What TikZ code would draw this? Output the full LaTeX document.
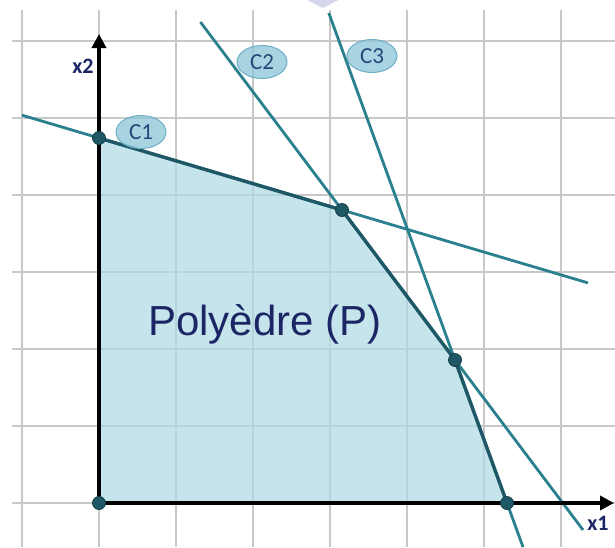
\documentclass[tikz,border=0pt]{standalone}
\usepackage{fontspec}
\setmainfont{Liberation Sans}
\newfontfamily\lblfont{Carlito}
\usetikzlibrary{calc,arrows.meta,shapes.geometric}
\definecolor{gridgray}{RGB}{200,200,200}
\definecolor{polyfill}{RGB}{176,218,229}
\definecolor{cline}{RGB}{42,128,142}
\definecolor{pedge}{RGB}{30,88,102}
\definecolor{navy}{RGB}{28,38,100}
\definecolor{lblfill}{RGB}{140,198,216}
\definecolor{lbldraw}{RGB}{110,175,198}
\definecolor{lbltext}{RGB}{36,72,122}
\definecolor{lav}{RGB}{214,214,236}
\tikzset{
  gridline/.style={draw=gridgray,line width=2.8pt},
  constraint/.style={draw=cline,line width=2.8pt},
  polyedge/.style={draw=pedge,line width=3.4pt,line join=round},
  axis/.style={draw=black,line width=3.8pt,-{Triangle[length=14pt,width=14pt]}},
  vertex/.style={circle,fill=pedge,draw=pedge!70!black,line width=0.8pt,minimum size=13pt,inner sep=0pt},
  clabel/.style={ellipse,fill=lblfill,draw=lbldraw,line width=1pt,fill opacity=0.75,text opacity=1,minimum width=50pt,minimum height=33pt,inner sep=0pt,text=lbltext,font=\fontsize{23}{23}\selectfont\lblfont},
  axlabel/.style={text=navy,font=\fontsize{22}{22}\selectfont\lblfont\bfseries,inner sep=0pt}
}
\begin{document}
\begin{tikzpicture}[x=1pt,y=-1pt]
\useasboundingbox (0,0) rectangle (615,547);
\fill[white] (0,0) rectangle (615,547);
% small lavender marker at top
\fill[lav] (307,0) -- (338,0) -- (323,8) -- cycle;
% grid
\foreach \gx in {22,99,176,253,330,407,484,561}
  \draw[gridline] (\gx,10) -- (\gx,547);
\foreach \gy in {41,118,195,272,349,426,503}
  \draw[gridline] (12,\gy) -- (615,\gy);
% vertices
\coordinate (O) at (99,503);
\coordinate (A) at (99,138);
\coordinate (B) at (342,210);
\coordinate (Cc) at (455,360);
\coordinate (D) at (507,503);
% polyhedron fill
\fill[polyfill,fill opacity=0.72] (O) -- (A) -- (B) -- (Cc) -- (D) -- cycle;
% constraint lines
\draw[constraint] ($(A)!-0.317!(B)$) coordinate (c1s) -- ($(A)!2.012!(B)$) coordinate (c1e);
\draw[constraint] ($(B)!-1.253!(Cc)$) coordinate (c2s) -- ($(B)!2.133!(Cc)$) coordinate (c2e);
\draw[constraint] ($(Cc)!-2.427!(D)$) coordinate (c3s) -- ($(Cc)!1.308!(D)$) coordinate (c3e);
% polyhedron edges
\draw[polyedge] (A) -- (B) -- (Cc) -- (D);
% axes
\coordinate (x1end) at (614,503);
\coordinate (x2end) at (99,34);
\draw[axis] (O) -- (x1end);
\draw[axis] (O) -- (x2end);
% vertex dots
\node[vertex] (vO) at (O) {};
\node[vertex] (vA) at (A) {};
\node[vertex] (vB) at (B) {};
\node[vertex] (vC) at (Cc) {};
\node[vertex] (vD) at (D) {};
% labels
\node[axlabel] (lx2) at (83,66) {x2};
\node[axlabel] (lx1) at (598,523) {x1};
\node[clabel] (C1) at (141,132) {C1};
\node[clabel] (C2) at (262,62) {C2};
\node[clabel] (C3) at (372,56) {C3};
\node[text=navy,font=\fontsize{42}{42}\selectfont,inner sep=0pt] (P) at (265,324) {Polyèdre (P)};
\end{tikzpicture}
\end{document}
